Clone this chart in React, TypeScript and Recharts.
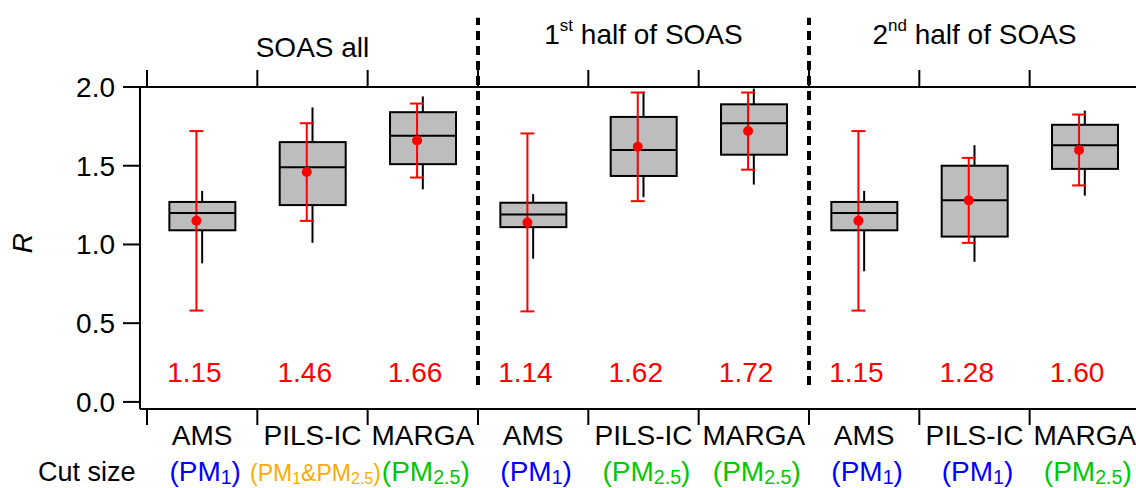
import * as React from "react";
import { ComposedChart, Bar, Scatter, ErrorBar, XAxis, YAxis, ReferenceLine } from "recharts";

// one entry per box, left to right
const instruments = ["AMS", "PILS-IC", "MARGA", "AMS", "PILS-IC", "MARGA", "AMS", "PILS-IC", "MARGA"];
const cutSizes = ["PM1", "PM1&PM2.5", "PM2.5", "PM1", "PM2.5", "PM2.5", "PM1", "PM1", "PM2.5"];
const q1 = [1.09, 1.25, 1.51, 1.11, 1.435, 1.57, 1.09, 1.05, 1.48];
const median = [1.2, 1.49, 1.69, 1.19, 1.6, 1.77, 1.2, 1.28, 1.63];
const q3 = [1.27, 1.65, 1.84, 1.265, 1.81, 1.89, 1.27, 1.5, 1.76];
const whiskerLow = [0.88, 1.01, 1.35, 0.91, 1.3, 1.38, 0.83, 0.89, 1.31];
const whiskerHigh = [1.34, 1.87, 1.94, 1.32, 1.97, 1.99, 1.34, 1.63, 1.85];
const means = [1.15, 1.46, 1.66, 1.14, 1.62, 1.72, 1.15, 1.28, 1.6];
const sd = [0.57, 0.31, 0.235, 0.565, 0.345, 0.245, 0.57, 0.27, 0.225];

// group headers: ordinal + superscript + rest
const groupOrdinal = ["", "1", "2"];
const groupSup = ["", "st", "nd"];
const groupName = ["SOAS all", " half of SOAS", " half of SOAS"];
const groupDividers = [3, 6];

const yTicks = [0, 0.5, 1, 1.5, 2];

const cutColor: Record<string, string> = {
  PM1: "#0000ff",
  "PM2.5": "#00c800",
  "PM1&PM2.5": "#ffaa00",
};

const FONT = '"Liberation Sans", Arial, sans-serif';
const FS = 28;
const BOX_W = 66;
const MEAN_SHIFT = 0.052; // red marker sits slightly left of box centre
const LABEL_SHIFT = 0.07;
const LABEL_LEVEL = 0.19;
const X_DOMAIN: [number, number] = [-0.0634, 8.964];
const Y_DOMAIN: [number, number] = [-0.045, 2];

const boxRows = instruments.map((_, i) => ({ x: i + 0.5, box: [q1[i], q3[i]] }));
const whiskerPts = instruments.flatMap((_, i) => [
  { x: i + 0.5, y: q3[i], err: [0, whiskerHigh[i] - q3[i]] },
  { x: i + 0.5, y: q1[i], err: [q1[i] - whiskerLow[i], 0] },
]);
const medianPts = instruments.map((_, i) => ({ x: i + 0.5, y: median[i] }));
const meanPts = instruments.map((_, i) => ({ x: i + 0.5 - MEAN_SHIFT, y: means[i], err: sd[i] }));
const labelPts = instruments.map((_, i) => ({ x: i + 0.5 - LABEL_SHIFT, y: LABEL_LEVEL, text: means[i].toFixed(2) }));

const boundaries = [0, 1, 2, 3, 4, 5, 6, 7, 8];
const bottomTicks = [...boundaries, ...instruments.map((_, i) => i + 0.5)].sort((a, b) => a - b);
const topTicks = [...boundaries, 1.5, 4.5, 7.5].sort((a, b) => a - b);

function cutSizeSpans(key: string, fs: number) {
  const sub = fs * 0.7;
  const drop = 3;
  const out: React.ReactNode[] = [<tspan key="o">(</tspan>];
  let back = 0;
  key.split("&").forEach((p, j) => {
    if (j > 0) {
      out.push(<tspan key={"a" + j} dy={back}>&amp;</tspan>);
      back = 0;
    }
    out.push(<tspan key={"p" + j} dy={back}>PM</tspan>);
    out.push(
      <tspan key={"s" + j} fontSize={sub} dy={drop}>
        {p.slice(2)}
      </tspan>
    );
    back = -drop;
  });
  out.push(<tspan key="c" dy={back}>)</tspan>);
  return out;
}

// bar only supplies the scaled top/bottom; the box width is fixed
function BoxShape(props: any) {
  const { x, y, width, height } = props;
  const top = Math.min(y, y + height);
  const cx = x + width / 2;
  return (
    <rect
      x={cx - BOX_W / 2}
      y={top}
      width={BOX_W}
      height={Math.abs(height)}
      fill="#bdbdbd"
      stroke="#000"
      strokeWidth={2}
    />
  );
}

function MedianShape({ cx, cy }: any) {
  return <line x1={cx - BOX_W / 2} x2={cx + BOX_W / 2} y1={cy} y2={cy} stroke="#000" strokeWidth={2} />;
}

function MeanShape({ cx, cy }: any) {
  return <circle cx={cx} cy={cy} r={5} fill="#ff0000" />;
}

function ValueShape({ cx, cy, payload }: any) {
  return (
    <text x={cx} y={cy + 10} textAnchor="middle" fontSize={FS} fill="#ff0000">
      {payload.text}
    </text>
  );
}

function BottomTick({ x, y, payload }: any) {
  const v = payload.value;
  if (Number.isInteger(v)) {
    return <line x1={x} x2={x} y1={y} y2={y + 16} stroke="#000" strokeWidth={2} />;
  }
  const i = Math.floor(v);
  const key = cutSizes[i];
  const fs = key.includes("&") ? 23 : FS;
  return (
    <g>
      <text x={x} y={y + 36} textAnchor="middle" fontSize={FS} fill="#000">
        {instruments[i]}
      </text>
      <text x={x + 3} y={y + 72} textAnchor="middle" fontSize={fs} fill={cutColor[key]}>
        {cutSizeSpans(key, fs)}
      </text>
    </g>
  );
}

function TopTick({ x, y, payload }: any) {
  const v = payload.value;
  if (Number.isInteger(v)) {
    return <line x1={x} x2={x} y1={y - 17} y2={y} stroke="#000" strokeWidth={2} />;
  }
  const g = Math.floor(v / 3);
  return (
    <text x={x} y={y - 43} textAnchor="middle" fontSize={FS} fill="#000" style={{ whiteSpace: "pre" }}>
      <tspan>{groupOrdinal[g]}</tspan>
      <tspan fontSize={17} dy={-13}>
        {groupSup[g]}
      </tspan>
      <tspan dy={13}>{groupName[g]}</tspan>
    </text>
  );
}

export default function App() {
  return (
    <div
      style={{
        position: "absolute",
        left: 0,
        top: 0,
        width: 1136,
        height: 488,
        overflow: "hidden",
        background: "#fff",
        fontFamily: FONT,
      }}
    >
      <ComposedChart width={1136} height={488} data={boxRows} margin={{ top: 0, right: 0, bottom: 0, left: 0 }}>
        <XAxis xAxisId="data" type="number" dataKey="x" domain={X_DOMAIN} allowDataOverflow hide />
        <XAxis
          xAxisId="bottom"
          type="number"
          dataKey="x"
          domain={X_DOMAIN}
          allowDataOverflow
          ticks={bottomTicks}
          interval={0}
          height={79}
          tickSize={0}
          tickMargin={0}
          tickLine={false}
          tick={<BottomTick />}
          axisLine={{ stroke: "#000", strokeWidth: 2 }}
          label={(p: any) => {
            const vb = p.viewBox;
            return (
              <text x={vb.x - 102} y={vb.y + 72} fontSize={27} fill="#000">
                Cut size
              </text>
            );
          }}
        />
        <XAxis
          xAxisId="top"
          orientation="top"
          type="number"
          dataKey="x"
          domain={X_DOMAIN}
          allowDataOverflow
          ticks={topTicks}
          interval={0}
          height={87}
          tickSize={0}
          tickMargin={0}
          tickLine={false}
          tick={<TopTick />}
          axisLine={{ stroke: "#000", strokeWidth: 2 }}
        />
        <YAxis
          dataKey="y"
          type="number"
          domain={Y_DOMAIN}
          allowDataOverflow
          ticks={yTicks}
          interval={0}
          width={140}
          tickSize={17}
          tickMargin={8}
          tickFormatter={(v: number) => v.toFixed(1)}
          tick={{ fontSize: FS, fill: "#000" }}
          tickLine={{ stroke: "#000", strokeWidth: 2 }}
          axisLine={{ stroke: "#000", strokeWidth: 2 }}
          label={(p: any) => {
            const vb = p.viewBox;
            const cy = vb.y + vb.height / 2 - 5;
            return (
              <text
                x={32}
                y={cy}
                textAnchor="middle"
                fontSize={FS}
                fontStyle="italic"
                fill="#000"
                transform={`rotate(-90, 32, ${cy})`}
              >
                R
              </text>
            );
          }}
        />

        {groupDividers.map((d) => (
          <ReferenceLine
            key={d}
            xAxisId="data"
            segment={[
              { x: d, y: 0.108 },
              { x: d, y: 2.44 },
            ]}
            ifOverflow="visible"
            stroke="#000"
            strokeWidth={4}
            strokeDasharray="9 6"
          />
        ))}

        <Scatter xAxisId="data" data={whiskerPts} shape={() => <g />} isAnimationActive={false}>
          <ErrorBar dataKey="err" direction="y" width={0} stroke="#000" strokeWidth={2} isAnimationActive={false} />
        </Scatter>
        <Bar xAxisId="data" dataKey="box" shape={<BoxShape />} isAnimationActive={false} />
        <Scatter xAxisId="data" data={medianPts} shape={<MedianShape />} isAnimationActive={false} />
        <Scatter xAxisId="data" data={meanPts} shape={<MeanShape />} isAnimationActive={false}>
          <ErrorBar dataKey="err" direction="y" width={7} stroke="#ff0000" strokeWidth={2} isAnimationActive={false} />
        </Scatter>
        <Scatter xAxisId="bottom" data={labelPts} shape={<ValueShape />} isAnimationActive={false} />
      </ComposedChart>
    </div>
  );
}
